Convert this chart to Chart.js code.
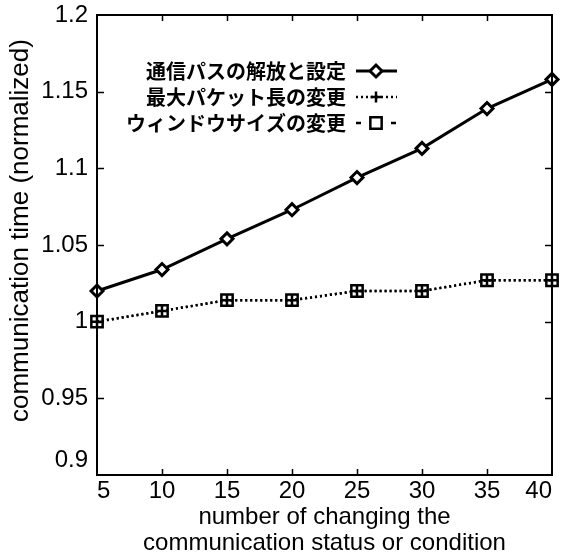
<!DOCTYPE html>
<html>
<head>
<meta charset="utf-8">
<script src="https://cdn.jsdelivr.net/npm/chart.js@4.4.0/dist/chart.umd.min.js"></script>
<style>
  html, body { margin: 0; padding: 0; background: #fff; }
  #wrap { width: 578px; height: 558px; }
</style>
</head>
<body>
<div id="wrap"><canvas id="myChart" width="578" height="558"></canvas></div>
<script>
// data
const xValues = [5, 10, 15, 20, 25, 30, 35, 40];
const pathResetTimes = [1.020, 1.034, 1.054, 1.073, 1.094, 1.113, 1.139, 1.158];
const packetLenTimes = [1.000, 1.007, 1.014, 1.014, 1.020, 1.020, 1.027, 1.027];
const windowSizeTimes = [1.000, 1.007, 1.014, 1.014, 1.020, 1.020, 1.027, 1.027];
const seriesNames = ['通信パスの解放と設定', '最大パケット長の変更', 'ウィンドウサイズの変更'];
const xTickLabels = ['5', '10', '15', '20', '25', '30', '35', '40'];
const yTickLabels = ['0.9', '0.95', '1', '1.05', '1.1', '1.15', '1.2'];

const toPoints = (vals) => vals.map((v, i) => ({ x: xValues[i], y: v }));

// inside ticks on all four sides + frame
const framePlugin = {
  id: 'frame',
  afterDraw(chart) {
    const ctx = chart.ctx;
    const a = chart.chartArea;
    const xs = chart.scales.x, ys = chart.scales.y;
    ctx.save();
    ctx.strokeStyle = '#000';
    ctx.lineWidth = 1.5;
    xs.ticks.forEach(t => {
      if (t.value === xs.min || t.value === xs.max) return;
      const px = Math.round(xs.getPixelForValue(t.value)) + 0.5;
      ctx.beginPath();
      ctx.moveTo(px, a.bottom); ctx.lineTo(px, a.bottom - 6);
      ctx.moveTo(px, a.top); ctx.lineTo(px, a.top + 6);
      ctx.stroke();
    });
    ys.ticks.forEach(t => {
      if (Math.abs(t.value - ys.min) < 1e-9 || Math.abs(t.value - ys.max) < 1e-9) return;
      const py = Math.round(ys.getPixelForValue(t.value)) + 0.5;
      ctx.beginPath();
      ctx.moveTo(a.left, py); ctx.lineTo(a.left + 7, py);
      ctx.moveTo(a.right, py); ctx.lineTo(a.right - 7, py);
      ctx.stroke();
    });
    ctx.lineWidth = 2;
    ctx.strokeRect(a.left, a.top, a.right - a.left, a.bottom - a.top);
    ctx.restore();
  }
};

// legend inside the plot: text right aligned, sample to the right
const legendPlugin = {
  id: 'innerLegend',
  afterDraw(chart) {
    const ctx = chart.ctx;
    const rowY = [71, 97, 123];
    const textRight = 346, lineL = 356, lineR = 397, markX = 376;
    ctx.save();
    chart.data.datasets.forEach((ds, i) => {
      const y = rowY[i];
      ctx.font = 'bold 20px "Noto Sans CJK JP"';
      ctx.fillStyle = '#000';
      ctx.textAlign = 'right';
      ctx.textBaseline = 'middle';
      ctx.fillText(ds.label, textRight, y);
      ctx.strokeStyle = '#000';
      ctx.lineWidth = ds.borderWidth;
      ctx.setLineDash(ds.legendDash || []);
      ctx.beginPath();
      ctx.moveTo(lineL, y); ctx.lineTo(lineR, y);
      ctx.stroke();
      ctx.setLineDash([]);
      ctx.fillStyle = ds.pointBackgroundColor;
      ctx.strokeStyle = '#000';
      ctx.lineWidth = ds.pointBorderWidth;
      Chart.helpers.drawPoint(ctx, {
        pointStyle: ds.pointStyle,
        radius: ds.pointRadius,
        borderWidth: ds.pointBorderWidth,
        rotation: 0
      }, markX, y);
    });
    ctx.restore();
  }
};

const context = document.getElementById('myChart').getContext('2d');
const myChart = new Chart(context, {
  type: 'line',
  data: {
    datasets: [
      {
        label: seriesNames[0],
        data: toPoints(pathResetTimes),
        borderColor: '#000',
        borderWidth: 3,
        pointStyle: 'rectRot',
        pointRadius: 6,
        pointBorderWidth: 3,
        pointBackgroundColor: '#fff',
        pointBorderColor: '#000',
        legendDash: [],
        clip: false
      },
      {
        label: seriesNames[1],
        data: toPoints(packetLenTimes),
        borderColor: '#000',
        borderWidth: 2.5,
        borderDash: [2, 3],
        pointStyle: 'cross',
        pointRadius: 5.5,
        pointBorderWidth: 2.5,
        pointBackgroundColor: '#fff',
        pointBorderColor: '#000',
        legendDash: [2, 3],
        clip: false
      },
      {
        label: seriesNames[2],
        data: toPoints(windowSizeTimes),
        borderColor: '#000',
        borderWidth: 2.5,
        borderDash: [2, 3],
        pointStyle: 'rect',
        pointRadius: 8,
        pointBorderWidth: 2.5,
        pointBackgroundColor: 'rgba(255,255,255,0)',
        pointBorderColor: '#000',
        legendDash: [5, 30],
        clip: false
      }
    ]
  },
  options: {
    responsive: false,
    animation: false,
    events: [],
    layout: { padding: { left: 0, right: 26, top: 15, bottom: 0 } },
    plugins: { legend: { display: false }, tooltip: { enabled: false } },
    scales: {
      x: {
        type: 'linear',
        min: 5,
        max: 40,
        grid: { display: false, drawTicks: false },
        border: { display: false },
        afterFit: (s) => { s.height = 83; },
        ticks: {
          stepSize: 5,
          align: 'inner',
          padding: 2,
          color: '#000',
          font: { family: '"Liberation Sans", Arial', size: 24 },
          callback: (v) => xTickLabels[xValues.indexOf(v)]
        },
        title: {
          display: true,
          text: ['number of changing the', 'communication status or condition'],
          color: '#000',
          font: { family: '"Liberation Sans", Arial', size: 24, lineHeight: 1.08 },
          padding: { top: 0, bottom: 2 }
        }
      },
      y: {
        min: 0.9,
        max: 1.2,
        grid: { display: false, drawTicks: true, tickLength: 9 },
        border: { display: false },
        afterFit: (s) => { s.width = 97; },
        ticks: {
          stepSize: 0.05,
          padding: 0,
          color: '#000',
          font: { family: '"Liberation Sans", Arial', size: 24 },
          callback: (v) => {
            const lab = yTickLabels.find(l => Math.abs(parseFloat(l) - v) < 1e-6);
            return lab === '0.9' ? [lab, ''] : lab;
          }
        },
        title: {
          display: true,
          text: '    communication time (normalized)',
          color: '#000',
          font: { family: '"Liberation Sans", Arial', size: 26, lineHeight: 1.1 },
          padding: { top: 7, bottom: 0 }
        }
      }
    }
  },
  plugins: [framePlugin, legendPlugin]
});
</script>
</body>
</html>
